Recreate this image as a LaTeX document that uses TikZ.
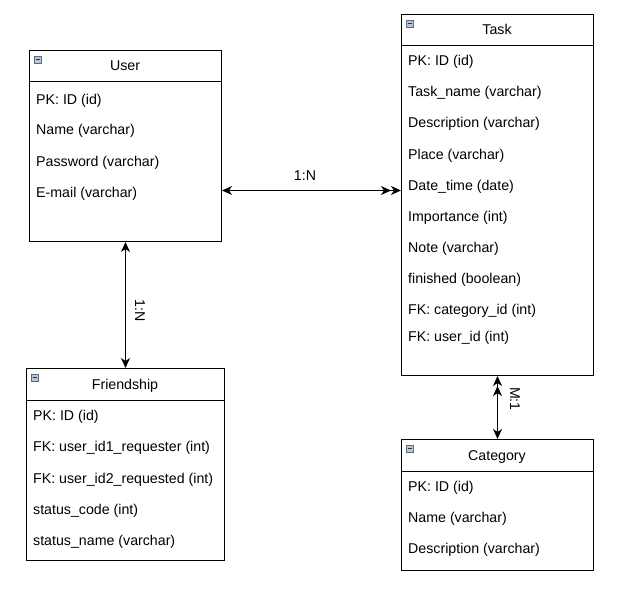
\documentclass[tikz,border=0pt]{standalone}
\usepackage{fontspec}
\setmainfont{Liberation Sans}
\usetikzlibrary{arrows.meta}
\definecolor{iconfill}{HTML}{B8C6D6}
\definecolor{icondraw}{HTML}{5A6B80}
\tikzset{
  entity/.style={draw=black, line width=1pt, anchor=north west, inner sep=0pt, fill=white},
  ttl/.style={anchor=base, inner sep=0pt, font=\fontsize{14.2}{17}\selectfont},
  rowtxt/.style={anchor=base west, inner sep=0pt, font=\fontsize{14.2}{17}\selectfont},
  lbl/.style={inner sep=0pt, font=\fontsize{14.2}{17}\selectfont},
  conn/.style={line width=1.5pt, black},
  hd/.tip={Stealth[length=10pt,width=9pt,inset=3pt]},
  sepline/.style={line width=1pt, black},
  icon/.style={draw=icondraw, fill=iconfill, line width=0.6pt}
}
\newcommand{\erbox}[5]{% name, x, y, w, h
  \node[entity, minimum width=#4pt, minimum height=#5pt] (#1) at (#2,#3) {};
  \draw[sepline] ([yshift=-32pt]#1.north west) -- ([yshift=-32pt]#1.north east);
  \draw[icon] ([xshift=5pt,yshift=-6pt]#1.north west) rectangle ([xshift=12pt,yshift=-13pt]#1.north west);
  \draw[line width=1pt, black!80] ([xshift=6.5pt,yshift=-9.5pt]#1.north west) -- ([xshift=10.5pt,yshift=-9.5pt]#1.north west);
}
\begin{document}
\begin{tikzpicture}[x=1pt,y=-1pt]
\useasboundingbox (0,0) rectangle (619,594);

% User
\erbox{user}{29}{50}{192}{191}
\node[ttl] (usert) at (125,71) {User};
\node[rowtxt] (u1) at (36,104) {PK: ID (id)};
\node[rowtxt] (u2) at (36,135) {Name (varchar)};
\node[rowtxt] (u3) at (36,166) {Password (varchar)};
\node[rowtxt] (u4) at (36,197) {E-mail (varchar)};

% Task
\erbox{task}{401}{14}{192}{361}
\node[ttl] (taskt) at (497,35) {Task};
\node[rowtxt] (t1) at (408,66) {PK: ID (id)};
\node[rowtxt] (t2) at (408,97) {Task\_name (varchar)};
\node[rowtxt] (t3) at (408,128) {Description (varchar)};
\node[rowtxt] (t4) at (408,159) {Place (varchar)};
\node[rowtxt] (t5) at (408,190) {Date\_time (date)};
\node[rowtxt] (t6) at (408,221) {Importance (int)};
\node[rowtxt] (t7) at (408,252) {Note (varchar)};
\node[rowtxt] (t8) at (408,283) {finished (boolean)};
\node[rowtxt] (t9) at (408,314) {FK: category\_id (int)};
\node[rowtxt] (t10) at (408,341) {FK: user\_id (int)};

% Friendship
\erbox{friend}{26}{368}{198}{192}
\node[ttl] (friendt) at (125,389) {Friendship};
\node[rowtxt] (f1) at (33,420) {PK: ID (id)};
\node[rowtxt] (f2) at (33,451) {FK: user\_id1\_requester (int)};
\node[rowtxt] (f3) at (33,483) {FK: user\_id2\_requested (int)};
\node[rowtxt] (f4) at (33,514) {status\_code (int)};
\node[rowtxt] (f5) at (33,545) {status\_name (varchar)};

% Category
\erbox{cat}{401}{439}{192}{131}
\node[ttl] (catt) at (497,460) {Category};
\node[rowtxt] (c1) at (408,491) {PK: ID (id)};
\node[rowtxt] (c2) at (408,522) {Name (varchar)};
\node[rowtxt] (c3) at (408,553) {Description (varchar)};

% Connectors
\draw[conn, {hd[]}-{hd[]hd[]}] ([yshift=-44.5pt]user.east) -- ([yshift=4.5pt]task.west);
\draw[conn, {hd[]}-{hd[]}] (user.south) -- (friend.north);
\draw[conn, {hd[]hd[]}-{hd[]}] (task.south) -- (cat.north);

% Labels
\node[lbl] (l1) at (305,176) {1:N};
\node[lbl, rotate=-90] (l2) at (140,311) {1:N};
\node[lbl, rotate=-90] (l3) at (515,399) {M:1};
\end{tikzpicture}
\end{document}
